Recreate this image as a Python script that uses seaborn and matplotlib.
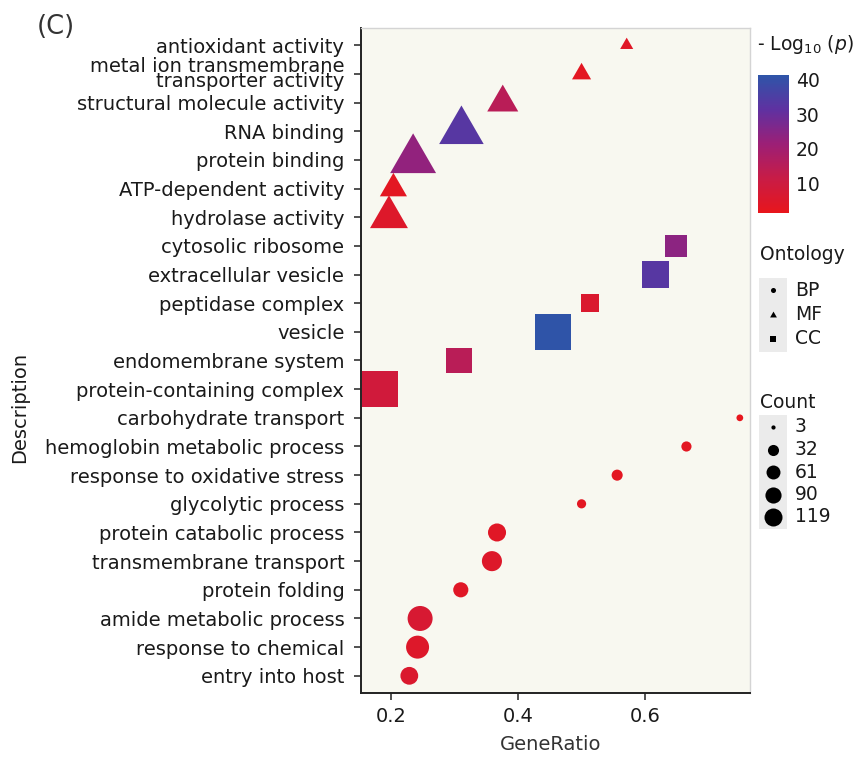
import numpy as np
import pandas as pd
import matplotlib
matplotlib.use("Agg")
import matplotlib.pyplot as plt
import seaborn as sns
from matplotlib.colors import LinearSegmentedColormap, Normalize
from matplotlib.cm import ScalarMappable
from matplotlib.path import Path
from matplotlib.markers import MarkerStyle
from matplotlib.patches import Rectangle

# ---------------- data ----------------
descriptions = [
    "antioxidant activity",
    "metal ion transmembrane\ntransporter activity",
    "structural molecule activity",
    "RNA binding",
    "protein binding",
    "ATP-dependent activity",
    "hydrolase activity",
    "cytosolic ribosome",
    "extracellular vesicle",
    "peptidase complex",
    "vesicle",
    "endomembrane system",
    "protein-containing complex",
    "carbohydrate transport",
    "hemoglobin metabolic process",
    "response to oxidative stress",
    "glycolytic process",
    "protein catabolic process",
    "transmembrane transport",
    "protein folding",
    "amide metabolic process",
    "response to chemical",
    "entry into host",
]
ontology = ["MF"] * 7 + ["CC"] * 6 + ["BP"] * 10
gene_ratio = [0.571, 0.500, 0.376, 0.311, 0.235, 0.204, 0.197,
              0.648, 0.616, 0.514, 0.455, 0.307, 0.183,
              0.749, 0.665, 0.556, 0.500, 0.367, 0.359, 0.310, 0.246, 0.242, 0.229]
counts = [9, 20, 54, 112, 119, 41, 81,
          44, 67, 29, 115, 61, 119,
          4, 10, 12, 8, 33, 41, 23, 64, 54, 32]
neglog10p = [4, 3, 15, 33, 23, 3, 5,
             24, 33, 6, 41, 15, 9,
             2, 3, 3, 3, 4, 5, 4, 7, 5, 6]

count_breaks = [3, 32, 61, 90, 119]
cbar_ticks = [10, 20, 30, 40]
onto_levels = ["BP", "MF", "CC"]

df = pd.DataFrame({"Description": descriptions, "Ontology": ontology,
                   "GeneRatio": gene_ratio, "Count": counts, "logp": neglog10p})

# ---------------- styles ----------------
W, H, DPI = 861, 758, 100
px2pt = 72 / DPI
TXT = "#1a1a1a"
cmap = LinearSegmentedColormap.from_list(
    "rb", [(0.0, "#e8161c"), (0.25, "#c81c46"), (0.5, "#9c1f76"),
           (0.75, "#5f31a1"), (1.0, "#2e55a8")])
cnorm = Normalize(1.6, 41.2)

tri_path = Path([(0, 1.555), (-1.347, -0.778), (1.347, -0.778), (0, 1.555)],
                [Path.MOVETO, Path.LINETO, Path.LINETO, Path.CLOSEPOLY])
shape_marker = {"MF": MarkerStyle(tri_path), "CC": "s", "BP": "o"}
shape_factor = {"MF": 2.43, "CC": 1.124, "BP": 1.0}
dmin, dmax = 6 * px2pt, 34 * px2pt  # circle diameters in pt

sns.set_theme(style="white")
plt.rcParams["font.family"] = ["DejaVu Sans"]
plt.rcParams["xtick.bottom"] = True
plt.rcParams["ytick.left"] = True
fig = plt.figure(figsize=(W / DPI, H / DPI), dpi=DPI, facecolor="white")
ax = fig.add_axes([361 / W, 1 - 693 / H, 389 / W, 665 / H])
ax.set_facecolor("#f8f8f0")

for ont in ["MF", "CC", "BP"]:
    sub = df[df["Ontology"] == ont]
    f = shape_factor[ont]
    sns.scatterplot(data=sub, x="GeneRatio", y="Description", hue="logp",
                    size="Count", palette=cmap, hue_norm=cnorm,
                    sizes=(f * dmin ** 2, f * dmax ** 2), size_norm=(3, 119),
                    marker=shape_marker[ont], linewidth=0, legend=False,
                    ax=ax, zorder=3)

ax.set_xlim(0.153, 0.765)
ax.set_ylim(22.6, -0.6)
ax.set_xticks([0.2, 0.4, 0.6])
ax.set_xticklabels(["0.2", "0.4", "0.6"])
ax.set_yticks(range(len(descriptions)))
ax.set_yticklabels(descriptions, linespacing=0.72)
ax.tick_params(axis="both", which="major", length=5, width=1.2, color="#333333",
               labelsize=14, labelcolor=TXT, direction="out")
ax.tick_params(axis="y", pad=7, left=True)
ax.tick_params(axis="x", pad=5, bottom=True)
for side in ["top", "right"]:
    ax.spines[side].set_color("#d4d4d4")
    ax.spines[side].set_linewidth(1.0)
for side in ["left", "bottom"]:
    ax.spines[side].set_color("#222222")
    ax.spines[side].set_linewidth(1.4)

ax.set_xlabel("GeneRatio", fontsize=14, color="#333333", va="center")
ax.xaxis.set_label_coords(0.487, -0.078)
ax.set_ylabel("Description", fontsize=14, color=TXT, va="center")
ax.yaxis.set_label_coords(-0.877, 0.43)

fig.text(37 / W, 1 - 27.5 / H, "(C)", fontsize=18.5, color="#333333", va="center", ha="left")

# ---------------- colorbar ----------------
cax = fig.add_axes([758 / W, 1 - 213 / H, 31 / W, 138 / H])
cb = fig.colorbar(ScalarMappable(norm=cnorm, cmap=cmap), cax=cax, ticks=cbar_ticks)
cb.outline.set_visible(False)
cax.tick_params(left=True, right=True, direction="in", length=4, width=1.2,
                color="white", labelsize=13.5, labelcolor=TXT, pad=5)
fig.text(757 / W, 1 - 45 / H, r"- Log$_{10}$ ($\mathit{p}$)", fontsize=13.5,
         color=TXT, va="center", ha="left")

# ---------------- legends (ontology & count) ----------------
lax = fig.add_axes([0, 0, 1, 1], facecolor="none")
lax.set_xlim(0, W)
lax.set_ylim(H, 0)
lax.axis("off")

lax.text(760, 255, "Ontology", fontsize=13.5, color=TXT, va="center", ha="left")
onto_y = [290, 314.5, 339]
lax.add_patch(Rectangle((759, 278), 28, 73.5, facecolor="#ebebeb", edgecolor="none"))
for lvl, yy in zip(onto_levels, onto_y):
    lax.scatter([773], [yy], s=(6.5 * px2pt) ** 2 * shape_factor[lvl] * 0.6,
                marker=shape_marker[lvl], color="black", linewidth=0)
    lax.text(795, yy, lvl, fontsize=13.5, color=TXT, va="center", ha="left")

lax.text(760, 403, "Count", fontsize=13.5, color=TXT, va="center", ha="left")
cnt_y = [427, 449.5, 472, 494.5, 517]
lax.add_patch(Rectangle((759, 415), 28, 114, facecolor="#ebebeb", edgecolor="none"))
for c, yy in zip(count_breaks, cnt_y):
    d = 3.0 * (1.4 + 4.6 * np.sqrt((c - 3) / 116))
    lax.scatter([773], [yy], s=(d * px2pt) ** 2, marker="o", color="black", linewidth=0)
    lax.text(795, yy, str(c), fontsize=13.5, color=TXT, va="center", ha="left")

fig.savefig("out.png", dpi=DPI, facecolor="white")
